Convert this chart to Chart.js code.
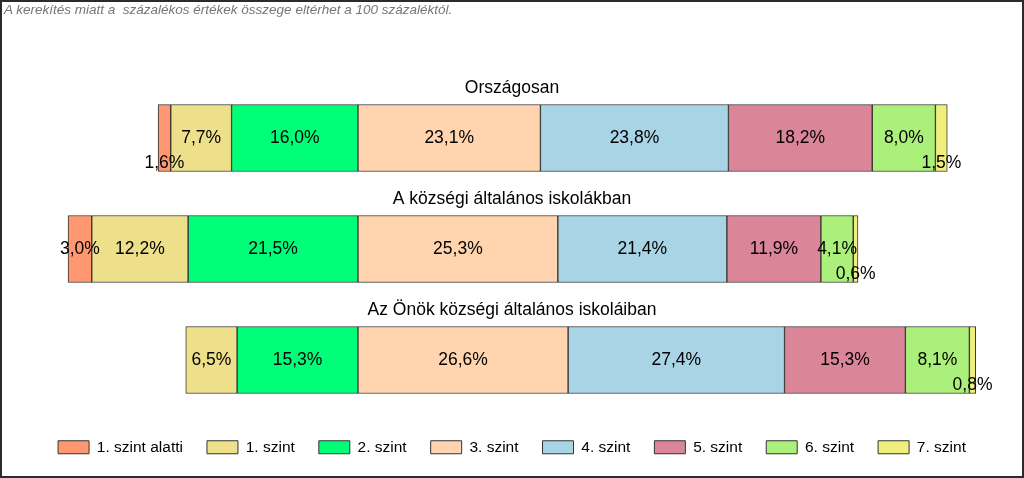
<!DOCTYPE html>
<html>
<head>
<meta charset="utf-8">
<script src="https://cdn.jsdelivr.net/npm/chart.js@4"></script>
<style>
    html, body { margin: 0; padding: 0; background: #fff; }
    #frame {
        position: absolute; left: 0; top: 0;
        width: 1024px; height: 478px;
        box-sizing: border-box;
        border: 2px solid #2b2b2b;
        background: #fff;
    }
    #note {
        position: absolute; left: 4px; top: 2px;
        font: italic 13.5px "Liberation Sans", Arial, sans-serif;
        color: #767676;
        white-space: pre;
    }
    #chart { display: block; }
</style>
</head>
<body>
<div id="frame">
    <canvas id="chart" width="1020" height="474"></canvas>
</div>
<div id="note">A kerekítés miatt a  százalékos értékek összege eltérhet a 100 százaléktól.</div>
<script>
// Adatok
const groups = ['Országosan', 'A községi általános iskolákban', 'Az Önök községi általános iskoláiban'];
const levels = ['1. szint alatti', '1. szint', '2. szint', '3. szint', '4. szint', '5. szint', '6. szint', '7. szint'];
const belowLevel1 = [1.6, 3.0, 0];
const level1 = [7.7, 12.2, 6.5];
const level2 = [16.0, 21.5, 15.3];
const level3 = [23.1, 25.3, 26.6];
const level4 = [23.8, 21.4, 27.4];
const level5 = [18.2, 11.9, 15.3];
const level6 = [8.0, 4.1, 8.1];
const level7 = [1.5, 0.6, 0.8];

const seriesValues = [belowLevel1, level1, level2, level3, level4, level5, level6, level7];
const colors = ['#FF9770', '#EEE08A', '#00FF78', '#FFD4AE', '#A8D4E6', '#DA8698', '#ABF07A', '#F0EE7C'];

// a 2. és 3. szint határa egy vonalba kerül
const lowSums = groups.map((g, i) => belowLevel1[i] + level1[i] + level2[i]);
const maxLow = Math.max(...lowSums);
const offsets = lowSums.map(s => Math.round((maxLow - s) * 10) / 10);

const datasets = [{
    label: '_offset',
    data: offsets,
    backgroundColor: 'rgba(0,0,0,0)',
    borderWidth: 0
}];
levels.forEach((name, k) => {
    datasets.push({
        label: name,
        data: seriesValues[k],
        backgroundColor: colors[k],
        borderColor: '#333333',
        borderWidth: 1,
        borderSkipped: false
    });
});

const FONT = '"Liberation Sans", Arial, sans-serif';

// címkék a sávok felett és a százalékok a sávokban
const labelPlugin = {
    id: 'barLabels',
    afterDatasetsDraw(chart) {
        const ctx = chart.ctx;
        ctx.save();
        ctx.fillStyle = '#000';
        ctx.font = '17.5px ' + FONT;
        ctx.textAlign = 'center';

        // csoport címek
        const first = chart.getDatasetMeta(1).data;
        ctx.textBaseline = 'alphabetic';
        groups.forEach((g, i) => {
            const bar = first[i];
            const top = bar.y - bar.height / 2;
            ctx.fillText(g, 510, top - 12);
        });

        ctx.textBaseline = 'middle';
        for (let d = 1; d < chart.data.datasets.length; d++) {
            const meta = chart.getDatasetMeta(d);
            meta.data.forEach((el, i) => {
                const v = chart.data.datasets[d].data[i];
                if (!v) return;
                const c = el.getCenterPoint();
                const txt = v.toFixed(1).replace('.', ',') + '%';
                const y = v < 2 ? c.y + 25 : c.y;
                ctx.fillText(txt, c.x, y);
            });
        }
        ctx.restore();
    }
};

new Chart(document.getElementById('chart'), {
    type: 'bar',
    data: {
        labels: groups,
        datasets: datasets
    },
    options: {
        indexAxis: 'y',
        responsive: false,
        animation: false,
        layout: {
            padding: { left: 6, right: 6, top: 80.5, bottom: 11 }
        },
        scales: {
            x: { stacked: true, display: false, min: -7.6, max: 120 },
            y: { stacked: true, display: false }
        },
        datasets: {
            bar: { barThickness: 67 }
        },
        plugins: {
            tooltip: { enabled: false },
            legend: {
                position: 'bottom',
                labels: {
                    boxWidth: 31,
                    boxHeight: 13,
                    padding: 24,
                    color: '#000',
                    font: { size: 15.5, family: FONT },
                    filter: item => item.text !== '_offset'
                }
            }
        }
    },
    plugins: [labelPlugin]
});
</script>
</body>
</html>
